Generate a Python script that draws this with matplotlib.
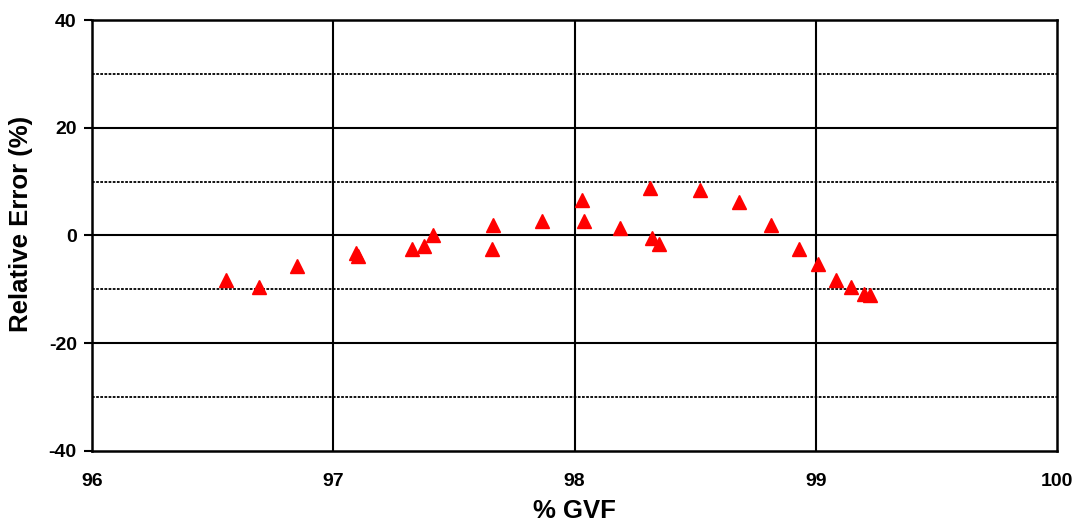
import matplotlib
matplotlib.use("Agg")
import matplotlib.pyplot as plt

gvf = [96.556, 96.692, 96.85, 97.094, 97.102, 97.326, 97.376, 97.413, 97.662,
       97.658, 97.865, 98.031, 98.039, 98.19, 98.313, 98.32, 98.35, 98.52,
       98.68, 98.815, 98.93, 99.01, 99.084, 99.146, 99.2, 99.225]
rel_err = [-8.2, -9.5, -5.6, -3.3, -3.8, -2.6, -1.9, 0.0, 1.9,
           -2.6, 2.6, 6.5, 2.6, 1.3, 8.9, -0.5, -1.5, 8.5,
           6.3, 1.9, -2.6, -5.2, -8.2, -9.5, -10.8, -11.1]

x_ticks = [96, 97, 98, 99, 100]
y_ticks = [-40, -20, 0, 20, 40]
y_minor = [-30, -10, 10, 30]

plt.rcParams['font.family'] = ['Liberation Sans', 'DejaVu Sans']
plt.rcParams['axes.unicode_minus'] = False
fig = plt.figure(figsize=(10.79, 5.32), dpi=100)
ax = fig.add_axes([0.0853, 0.1523, 0.8943, 0.8101])

ax.set_xlim(96, 100)
ax.set_ylim(-40, 40)

for y in y_minor:
    ax.axhline(y, color='black', lw=1.3, ls=(0, (1.5, 0.8)), zorder=1)
for y in y_ticks[1:-1]:
    ax.axhline(y, color='black', lw=1.5, zorder=1)
for x in x_ticks[1:-1]:
    ax.axvline(x, color='black', lw=1.5, zorder=1)

ax.plot(gvf, rel_err, ls='none', marker='^', color='#ff0000', ms=10, zorder=3)

ax.set_xticks(x_ticks)
ax.set_yticks(y_ticks)
ax.tick_params(axis='x', length=0, pad=16, labelsize=14)
ax.tick_params(axis='y', length=6, width=1.5, direction='out', pad=5, labelsize=14)
for lbl in ax.get_xticklabels() + ax.get_yticklabels():
    lbl.set_fontweight('bold')
for s in ax.spines.values():
    s.set_linewidth(1.8)
    s.set_color('black')

ax.set_xlabel('% GVF', fontsize=18.5, fontweight='bold', labelpad=6)
ax.set_ylabel('Relative Error (%)', fontsize=18.5, fontweight='bold')
ax.yaxis.set_label_coords(-0.061, 0.527)

fig.savefig('out.png', dpi=100)
